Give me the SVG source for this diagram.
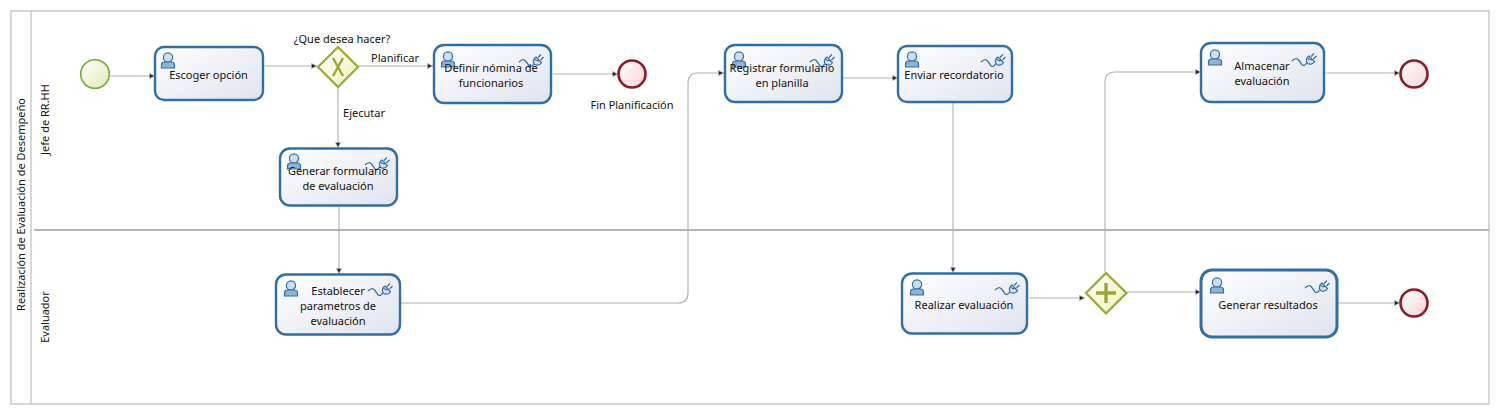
<svg xmlns="http://www.w3.org/2000/svg" xmlns:xlink="http://www.w3.org/1999/xlink" width="1499" height="414" viewBox="0 0 1499 414">
<style>
text{font-family:"Noto Sans","DejaVu Sans",sans-serif;font-size:11px;fill:#111;text-anchor:middle}
.task{fill:url(#tf);stroke:#2f6fa5;stroke-width:2.4}
.lane{fill:none;stroke:#bcbcbc;stroke-width:1.2}
.c{fill:none;stroke:#b0b0b0;stroke-width:1.1;marker-end:url(#ah)}
.end{fill:url(#ef);stroke:#8f1a28;stroke-width:2.6}
.gw{fill:url(#gf);stroke:#9aa832;stroke-width:2.2}
</style>
<defs>
<linearGradient id="tf" x1="0" y1="0" x2="1" y2="1"><stop offset="0" stop-color="#ffffff"/><stop offset="1" stop-color="#e0e3ef"/></linearGradient>
<linearGradient id="ef" x1="0" y1="0" x2="1" y2="1"><stop offset="0" stop-color="#ffffff"/><stop offset="1" stop-color="#f6d4d2"/></linearGradient>
<linearGradient id="sf" x1="0" y1="0" x2="1" y2="1"><stop offset="0" stop-color="#ffffff"/><stop offset="1" stop-color="#dfe9b4"/></linearGradient>
<linearGradient id="gf" x1="0" y1="0" x2="1" y2="1"><stop offset="0" stop-color="#ffffff"/><stop offset="1" stop-color="#eef0b8"/></linearGradient>
<marker id="ah" markerUnits="userSpaceOnUse" markerWidth="8" markerHeight="8" refX="7" refY="4" orient="auto"><path d="M1.500 1.500 L6.500 4 L1.500 6.500Z" fill="#222" stroke="#aaa" stroke-width=".8"/></marker>
<g id="user"><circle cx="0" cy="-3.500" r="4.600" fill="#cfdeee" stroke="#2f6fa5" stroke-width="1.2"/><path d="M-6.500 7 V4 Q-6.500 1 -3 1 H3 Q6.500 1 6.500 4 V7Z" fill="#8fb4d2" stroke="#2f6fa5" stroke-width="1.2"/></g>
<g id="plug" fill="none" stroke="#2f6fa5" stroke-width="1.2"><path d="M-13 1 Q-9 -3 -6.500 0 T-3 5 Q0 6.500 1.500 3"/><path d="M2.500 3.500 A5 5 0 0 1 4 -4 L9.500 1.500 A5 5 0 0 1 2.500 3.500Z" fill="#d5dfec"/><path d="M6 -3.500 L9 -6.500 M8.500 -1 L11.500 -4"/><circle cx="6" cy="-5" r="4.700" stroke-dasharray="5 24" stroke-dashoffset="-6"/></g>
</defs>
<rect width="1499" height="414" fill="#fff"/>
<g id="pool">
<rect class="lane" x="11" y="11" width="1478" height="393"/>
<line class="lane" x1="31" y1="11" x2="31" y2="404"/>
<line x1="34" y1="230" x2="1489" y2="230" stroke="#b4b4b4" stroke-width="2"/>
<text transform="translate(25,204.500) rotate(-90)">Realización de Evaluación de Desempeño</text>
<text transform="translate(49,119.500) rotate(-90)">Jefe de RR.HH</text>
<text transform="translate(49,317) rotate(-90)">Evaluador</text>
</g>
<g id="connectors">
<path class="c" d="M110 76H155"/>
<path class="c" d="M265 66H317"/>
<path class="c" d="M358 66H433"/>
<path class="c" d="M338 87V148"/>
<path class="c" d="M553 74H618"/>
<path class="c" d="M339 206V274"/>
<path class="c" d="M400 303H678Q688 303 688 293V83Q688 73 698 73H724"/>
<path class="c" d="M842 78H898"/>
<path class="c" d="M953 103V273"/>
<path class="c" d="M1029 298H1085"/>
<path class="c" d="M1105 272V82Q1105 72 1115 72H1201"/>
<path class="c" d="M1127 292H1201"/>
<path class="c" d="M1326 73H1400"/>
<path class="c" d="M1338 303H1400"/>
</g>
<g id="start"><circle cx="95" cy="74" r="14.300" fill="url(#sf)" stroke="#72ad2c" stroke-width="1.6"/></g>
<g id="escoger"><rect class="task" x="155" y="47" width="108" height="53" rx="9"/><use xlink:href="#user" href="#user" x="168" y="61"/><text x="208.500" y="79">Escoger opción</text></g>
<g id="gw1"><path class="gw" d="M338 47L358 67L338 87L318 67Z"/><path d="M333 58L343 76M343 58L333 76" stroke="#9aa832" stroke-width="2.400" fill="none"/><text x="342" y="43">¿Que desea hacer?</text></g>
<text x="395" y="62">Planificar</text>
<text x="364" y="117">Ejecutar</text>
<g id="generar"><rect class="task" x="280" y="148.500" width="117" height="57" rx="10"/><use xlink:href="#user" href="#user" x="294" y="162"/><use xlink:href="#plug" href="#plug" x="378" y="164"/><text x="338" y="175">Generar formulario</text><text x="338" y="190">de evaluación</text></g>
<g id="definir"><rect class="task" x="434" y="45" width="117" height="58" rx="10"/><use xlink:href="#user" href="#user" x="448" y="60"/><use xlink:href="#plug" href="#plug" x="532" y="61"/><text x="491" y="72">Definir nómina de</text><text x="491" y="87">funcionarios</text></g>
<g id="endplan"><circle class="end" cx="632" cy="74" r="13.500"/><text x="632" y="109">Fin Planificación</text></g>
<g id="registrar"><rect class="task" x="725" y="45" width="117" height="57" rx="10"/><use xlink:href="#user" href="#user" x="739" y="60"/><use xlink:href="#plug" href="#plug" x="823" y="61"/><text x="782" y="72">Registrar formulario</text><text x="782" y="87">en planilla</text></g>
<g id="enviar"><rect class="task" x="898" y="46" width="114" height="56" rx="9"/><use xlink:href="#user" href="#user" x="912" y="60"/><use xlink:href="#plug" href="#plug" x="994" y="61"/><text x="954" y="79">Enviar recordatorio</text></g>
<g id="almacenar"><rect class="task" x="1201" y="43" width="123" height="59" rx="10"/><use xlink:href="#user" href="#user" x="1215" y="58"/><use xlink:href="#plug" href="#plug" x="1305" y="60"/><text x="1262" y="70">Almacenar</text><text x="1262" y="85">evaluación</text></g>
<g id="end2"><circle class="end" cx="1414" cy="74" r="13.500"/></g>
<g id="establecer"><rect class="task" x="276" y="274.500" width="124" height="60" rx="10"/><use xlink:href="#user" href="#user" x="291" y="289"/><use xlink:href="#plug" href="#plug" x="381" y="290"/><text x="338" y="295">Establecer</text><text x="338" y="310">parametros de</text><text x="338" y="325">evaluación</text></g>
<g id="realizar"><rect class="task" x="902" y="273.500" width="125" height="60" rx="10"/><use xlink:href="#user" href="#user" x="917" y="288"/><use xlink:href="#plug" href="#plug" x="1008" y="289"/><text x="964" y="309">Realizar evaluación</text></g>
<g id="gw2"><path class="gw" d="M1106 273L1126.500 293L1106 313.500L1086 293Z"/><path d="M1106 283V303M1096 293H1116" stroke="#9aa832" stroke-width="3.400" fill="none"/></g>
<g id="resultados"><rect class="task" x="1201" y="270" width="136" height="67" rx="11" style="stroke-width:3"/><use xlink:href="#user" href="#user" x="1217" y="286"/><use xlink:href="#plug" href="#plug" x="1318" y="287"/><text x="1268" y="309">Generar resultados</text></g>
<g id="end3"><circle class="end" cx="1414" cy="303" r="13.500"/></g>
</svg>
